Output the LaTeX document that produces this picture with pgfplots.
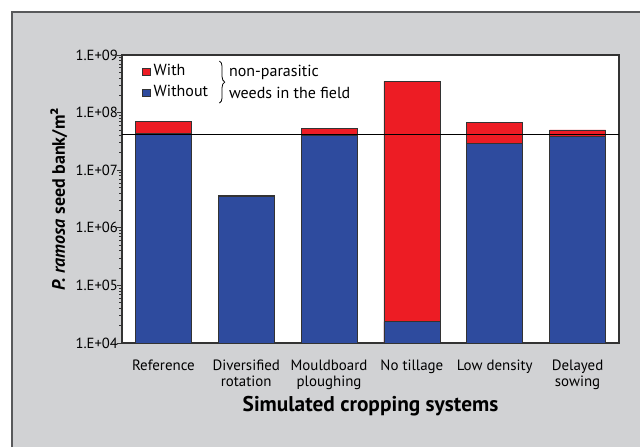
\documentclass[border=0pt]{standalone}
\usepackage{pgfplots}
\pgfplotsset{compat=1.18}
\usepackage{fontspec}
\setmainfont{PT Sans}
\usetikzlibrary{decorations.pathreplacing}
\definecolor{bggray}{HTML}{D1D2D4}
\definecolor{framecol}{HTML}{58595B}
\definecolor{myred}{HTML}{ED1C24}
\definecolor{myblue}{HTML}{2E4B9E}
\definecolor{barline}{HTML}{333333}
\definecolor{axcol}{HTML}{333333}
\begin{document}
\begin{tikzpicture}[x=1pt,y=1pt]
\path[use as bounding box] (0,0) rectangle (480,335.25);
\fill[bggray] (9,0) rectangle (480,326.25);
\draw[framecol, line width=0.9pt] (9,0) -- (9,326.25) -- (480,326.25);
\begin{axis}[
  at={(91.5pt,78pt)}, anchor=south west,
  scale only axis, width=372.75pt, height=216pt,
  ymode=log, ymin=1e4, ymax=1e9, log origin=infty,
  xmin=-0.5, xmax=5.5,
  axis background/.style={fill=white},
  axis line style={axcol, line width=0.8pt},
  every tick/.style={axcol, line width=0.6pt},
  xtick={0,1,2,3,4,5},
  xticklabels={Reference, Diversified\\rotation, Mouldboard\\ploughing, No tillage, Low density, Delayed\\sowing},
  x tick label style={align=center, font=\fontsize{11.2}{12.2}\selectfont, yshift=-9pt},
  major x tick style={draw=none},
  extra x ticks={-0.5,0.5,1.5,2.5,3.5,4.5,5.5},
  extra x tick labels={},
  extra x tick style={major tick length=4.5pt, xtick align=outside, tick style={axcol, line width=0.6pt}},
  xtick pos=lower,
  ytick={1e4,1e5,1e6,1e7,1e8,1e9},
  yticklabels={1.E+04,1.E+05,1.E+06,1.E+07,1.E+08,1.E+09},
  minor ytick={2e4,3e4,4e4,5e4,6e4,7e4,8e4,9e4,2e5,3e5,4e5,5e5,6e5,7e5,8e5,9e5,2e6,3e6,4e6,5e6,6e6,7e6,8e6,9e6,2e7,3e7,4e7,5e7,6e7,7e7,8e7,9e7,2e8,3e8,4e8,5e8,6e8,7e8,8e8,9e8},
  ytick align=outside, ytick pos=left,
  major tick length=4pt, minor tick length=2.2pt,
  y tick label style={font=\fontsize{11}{12}\selectfont, xshift=4.5pt},
  xlabel={\textbf{Simulated cropping systems}},
  xlabel style={at={(axis description cs:0.5,-0.219)}, anchor=center, font=\fontsize{16}{18}\selectfont},
  ylabel={\textbf{\textit{P. ramosa} seed bank/m²}},
  ylabel style={at={(axis description cs:-0.127,0.5)}, anchor=center, rotate=0, font=\fontsize{13.5}{16}\selectfont},
  legend image code/.code={\draw[#1] (0pt,-2.8pt) rectangle (5.6pt,2.8pt);},
  legend style={at={(rel axis cs:0.04,0.9045)}, anchor=west, draw=none, fill=none,
    font=\fontsize{12}{13}\selectfont, row sep=2.25pt, inner sep=0pt,
    nodes={inner xsep=2.5pt, inner ysep=1pt, text height=8.5pt, text depth=3pt}},
  legend cell align=left,
]
\addplot[ybar, bar width=42pt, bar shift=0pt, fill=myred, draw=barline, line width=0.6pt, forget plot]
  coordinates {(0,6.9e7) (1,3.6e6) (2,5.3e7) (3,3.5e8) (4,6.8e7) (5,5.0e7)};
\addplot[ybar, bar width=42pt, bar shift=0pt, fill=myblue, draw=barline, line width=0.6pt, forget plot]
  coordinates {(0,4.3e7) (1,3.45e6) (2,4.1e7) (3,2.35e4) (4,2.95e7) (5,3.8e7)};
\addplot[black, line width=0.7pt, forget plot] coordinates {(-0.5,4.2e7) (5.5,4.2e7)};
\addlegendimage{fill=myred, draw=barline, line width=0.6pt}
\addlegendentry{With}
\addlegendimage{fill=myblue, draw=barline, line width=0.6pt}
\addlegendentry{Without}
\draw[decorate, decoration={brace, amplitude=4pt}, line width=0.6pt, black]
  (rel axis cs:0.196,0.979) -- (rel axis cs:0.196,0.833);
\node[anchor=west, inner sep=0pt, font=\fontsize{12}{13}\selectfont] at (rel axis cs:0.215,0.941) {non-parasitic};
\node[anchor=west, inner sep=0pt, font=\fontsize{12}{13}\selectfont] at (rel axis cs:0.215,0.868) {weeds in the field};
\end{axis}
\end{tikzpicture}
\end{document}
